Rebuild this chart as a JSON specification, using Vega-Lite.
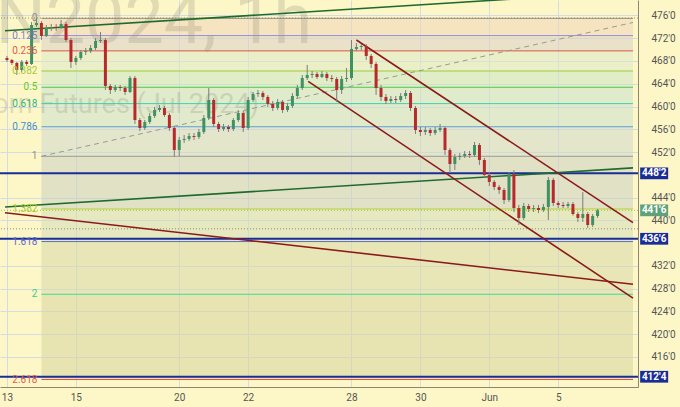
{
 "$schema": "https://vega.github.io/schema/vega-lite/v6.json",
 "width": 638, "height": 387,
 "autosize": {"type": "none"},
 "padding": {"left": 0, "top": 0, "right": 42, "bottom": 20},
 "background": "#fdf7c8",
 "config": {"view": {"stroke": null}, "font": "Roboto"},
 "datasets": {
  "candles": [
   {"i":0,"o":468.52,"h":468.88,"l":467.83,"c":468.18},{"i":1,"o":468.18,"h":468.36,"l":467.30,"c":467.65},{"i":2,"o":467.65,"h":467.83,"l":465.54,"c":466.42},{"i":3,"o":466.42,"h":468.18,"l":466.07,"c":467.83},{"i":4,"o":467.83,"h":468.18,"l":467.13,"c":467.48},{"i":5,"o":467.48,"h":474.86,"l":467.30,"c":474.33},{"i":6,"o":474.33,"h":475.55,"l":473.98,"c":474.68},{"i":7,"o":474.68,"h":475.03,"l":471.69,"c":472.40},{"i":8,"o":472.40,"h":474.33,"l":472.22,"c":473.80},{"i":9,"o":473.80,"h":474.51,"l":473.27,"c":473.98},
   {"i":10,"o":473.98,"h":474.51,"l":473.27,"c":473.80},{"i":11,"o":473.80,"h":475.21,"l":473.63,"c":474.51},{"i":12,"o":474.51,"h":474.86,"l":471.34,"c":471.69},{"i":13,"o":471.69,"h":472.04,"l":466.77,"c":467.83},{"i":14,"o":467.83,"h":468.88,"l":467.30,"c":468.52},{"i":15,"o":468.52,"h":469.93,"l":468.18,"c":469.58},{"i":16,"o":469.58,"h":470.28,"l":469.05,"c":469.75},{"i":17,"o":469.75,"h":470.81,"l":469.40,"c":470.28},{"i":18,"o":470.28,"h":472.04,"l":469.93,"c":471.51},{"i":19,"o":471.51,"h":473.10,"l":471.16,"c":471.69},
   {"i":20,"o":471.69,"h":472.04,"l":462.90,"c":463.61},{"i":21,"o":463.61,"h":463.96,"l":462.20,"c":462.90},{"i":22,"o":462.90,"h":463.78,"l":462.55,"c":463.43},{"i":23,"o":463.43,"h":463.78,"l":462.72,"c":463.25},{"i":24,"o":463.25,"h":463.61,"l":462.02,"c":462.55},{"i":25,"o":462.55,"h":465.36,"l":462.37,"c":465.01},{"i":26,"o":465.01,"h":465.36,"l":456.93,"c":457.63},{"i":27,"o":457.63,"h":457.98,"l":455.69,"c":456.22},{"i":28,"o":456.22,"h":457.63,"l":455.87,"c":457.28},{"i":29,"o":457.28,"h":458.86,"l":456.93,"c":458.34},
   {"i":30,"o":458.34,"h":459.92,"l":457.98,"c":459.39},{"i":31,"o":459.39,"h":460.27,"l":459.04,"c":459.74},{"i":32,"o":459.74,"h":460.10,"l":458.16,"c":458.51},{"i":33,"o":458.51,"h":458.86,"l":455.69,"c":456.22},{"i":34,"o":456.22,"h":456.57,"l":451.13,"c":452.36},{"i":35,"o":452.36,"h":454.65,"l":451.30,"c":454.12},{"i":36,"o":454.12,"h":454.99,"l":453.59,"c":454.30},{"i":37,"o":454.30,"h":455.34,"l":453.94,"c":454.82},{"i":38,"o":454.82,"h":455.34,"l":454.12,"c":454.65},{"i":39,"o":454.65,"h":456.05,"l":454.30,"c":455.52},
   {"i":40,"o":455.52,"h":458.51,"l":455.17,"c":457.98},{"i":41,"o":457.98,"h":463.25,"l":457.63,"c":461.15},{"i":42,"o":461.15,"h":461.50,"l":456.40,"c":456.93},{"i":43,"o":456.93,"h":457.28,"l":455.52,"c":456.05},{"i":44,"o":456.05,"h":456.93,"l":455.69,"c":456.40},{"i":45,"o":456.40,"h":456.75,"l":455.52,"c":456.05},{"i":46,"o":456.05,"h":457.98,"l":455.69,"c":457.63},{"i":47,"o":457.63,"h":459.39,"l":457.28,"c":458.86},{"i":48,"o":458.86,"h":459.21,"l":455.52,"c":456.22},{"i":49,"o":456.22,"h":461.68,"l":455.87,"c":461.15},
   {"i":50,"o":461.15,"h":462.55,"l":460.80,"c":462.20},{"i":51,"o":462.20,"h":462.90,"l":461.68,"c":462.37},{"i":52,"o":462.37,"h":462.72,"l":461.15,"c":461.68},{"i":53,"o":461.68,"h":462.02,"l":459.92,"c":460.45},{"i":54,"o":460.45,"h":460.97,"l":459.21,"c":459.74},{"i":55,"o":459.74,"h":461.32,"l":459.39,"c":460.80},{"i":56,"o":460.80,"h":461.15,"l":458.86,"c":459.39},{"i":57,"o":459.39,"h":460.62,"l":459.04,"c":460.10},{"i":58,"o":460.10,"h":462.37,"l":459.74,"c":461.85},{"i":59,"o":461.85,"h":463.78,"l":461.50,"c":463.25},
   {"i":60,"o":463.25,"h":465.54,"l":462.90,"c":465.01},{"i":61,"o":465.01,"h":467.30,"l":464.66,"c":465.54},{"i":62,"o":465.54,"h":466.24,"l":465.01,"c":465.72},{"i":63,"o":465.72,"h":466.07,"l":464.84,"c":465.19},{"i":64,"o":465.19,"h":466.24,"l":465.01,"c":465.72},{"i":65,"o":465.72,"h":466.07,"l":464.48,"c":465.01},{"i":66,"o":465.01,"h":465.54,"l":464.31,"c":464.84},{"i":67,"o":464.84,"h":465.19,"l":460.80,"c":462.90},{"i":68,"o":462.90,"h":465.36,"l":462.20,"c":464.84},{"i":69,"o":464.84,"h":466.77,"l":464.31,"c":465.01},
   {"i":70,"o":465.01,"h":471.69,"l":464.66,"c":470.11},{"i":71,"o":470.11,"h":471.16,"l":469.75,"c":470.46},{"i":72,"o":470.46,"h":470.98,"l":469.93,"c":470.63},{"i":73,"o":470.63,"h":470.98,"l":468.18,"c":468.88},{"i":74,"o":468.88,"h":469.23,"l":466.77,"c":467.48},{"i":75,"o":467.48,"h":467.83,"l":462.02,"c":463.25},{"i":76,"o":463.25,"h":463.78,"l":460.97,"c":461.68},{"i":77,"o":461.68,"h":462.20,"l":460.45,"c":460.97},{"i":78,"o":460.97,"h":461.85,"l":460.62,"c":461.32},{"i":79,"o":461.32,"h":461.85,"l":460.62,"c":461.15},
   {"i":80,"o":461.15,"h":462.37,"l":460.80,"c":461.85},{"i":81,"o":461.85,"h":462.90,"l":461.32,"c":462.37},{"i":82,"o":462.37,"h":462.72,"l":459.21,"c":459.74},{"i":83,"o":459.74,"h":460.10,"l":455.17,"c":455.87},{"i":84,"o":455.87,"h":456.40,"l":454.82,"c":455.52},{"i":85,"o":455.52,"h":456.40,"l":454.99,"c":455.87},{"i":86,"o":455.87,"h":456.22,"l":454.82,"c":455.34},{"i":87,"o":455.34,"h":456.40,"l":454.99,"c":455.87},{"i":88,"o":455.87,"h":456.93,"l":455.52,"c":456.22},{"i":89,"o":456.22,"h":456.57,"l":451.48,"c":452.36},
   {"i":90,"o":452.36,"h":452.71,"l":448.31,"c":449.89},{"i":91,"o":449.89,"h":451.66,"l":448.84,"c":451.13},{"i":92,"o":451.13,"h":451.83,"l":450.60,"c":451.30},{"i":93,"o":451.30,"h":452.18,"l":450.95,"c":451.66},{"i":94,"o":451.66,"h":452.18,"l":450.95,"c":451.48},{"i":95,"o":451.48,"h":453.77,"l":451.13,"c":453.24},{"i":96,"o":453.24,"h":453.59,"l":449.73,"c":450.60},{"i":97,"o":450.60,"h":450.95,"l":447.44,"c":447.97},{"i":98,"o":447.97,"h":448.49,"l":446.03,"c":446.74},{"i":99,"o":446.74,"h":447.09,"l":445.33,"c":445.86},
   {"i":100,"o":445.86,"h":446.21,"l":444.63,"c":445.33},{"i":101,"o":445.33,"h":445.68,"l":442.87,"c":443.57},{"i":102,"o":443.57,"h":448.49,"l":443.22,"c":448.14},{"i":103,"o":448.14,"h":448.84,"l":441.46,"c":442.16},{"i":104,"o":442.16,"h":442.69,"l":439.18,"c":440.41},{"i":105,"o":440.41,"h":443.04,"l":440.06,"c":442.51},{"i":106,"o":442.51,"h":442.87,"l":441.46,"c":441.99},{"i":107,"o":441.99,"h":442.69,"l":441.46,"c":442.16},{"i":108,"o":442.16,"h":442.69,"l":441.28,"c":441.81},{"i":109,"o":441.81,"h":442.87,"l":441.46,"c":442.34},
   {"i":110,"o":442.34,"h":447.62,"l":440.06,"c":447.09},{"i":111,"o":447.09,"h":447.44,"l":442.51,"c":443.04},{"i":112,"o":443.04,"h":443.39,"l":442.16,"c":442.69},{"i":113,"o":442.69,"h":443.22,"l":442.16,"c":442.51},{"i":114,"o":442.51,"h":443.22,"l":442.16,"c":442.87},{"i":115,"o":442.87,"h":443.22,"l":440.83,"c":441.11},{"i":116,"o":441.11,"h":441.46,"l":439.71,"c":440.41},{"i":117,"o":440.41,"h":444.96,"l":439.71,"c":441.11},{"i":118,"o":441.11,"h":441.46,"l":438.65,"c":439.18},{"i":119,"o":439.18,"h":441.11,"l":438.83,"c":440.76},
   {"i":120,"o":440.76,"h":441.99,"l":440.41,"c":441.75}
  ],
  "fib": [
   {"r":"0","p":475.5},{"r":"0.125","p":472.47},{"r":"0.236","p":469.78},{"r":"0.382","p":466.24},{"r":"0.5","p":463.38},{"r":"0.618","p":460.51},{"r":"0.786","p":456.44},{"r":"1","p":451.25},{"r":"1.382","p":441.99},{"r":"1.618","p":436.26},{"r":"2","p":427.0},{"r":"2.618","p":412.01}
  ],
  "bands": [
   {"b":"b1","top":475.5,"bot":472.47},{"b":"b2","top":472.47,"bot":469.78},{"b":"b3","top":469.78,"bot":466.24},{"b":"b4","top":466.24,"bot":463.38},{"b":"b5","top":463.38,"bot":460.51},{"b":"b6","top":460.51,"bot":456.44},{"b":"b7","top":456.44,"bot":451.25},{"b":"b8","top":451.25,"bot":441.99},{"b":"b9","top":441.99,"bot":436.26},{"b":"b10","top":436.26,"bot":427.0},{"b":"b11","top":427.0,"bot":412.01}
  ],
  "lines": [
   {"seg":"g1","i":-0.4,"p":473.32},{"seg":"g1","i":127.2,"p":480.2},
   {"seg":"g2","i":-0.4,"p":442.34},{"seg":"g2","i":127.2,"p":449.21},
   {"seg":"r1","i":-0.4,"p":441.34},{"seg":"r1","i":127.2,"p":428.77},
   {"seg":"r2","i":61.2,"p":464.41},{"seg":"r2","i":127.2,"p":426.31},
   {"seg":"r3","i":71,"p":471.69},{"seg":"r3","i":127.2,"p":439.58}
  ],
  "fibtrend": [{"i":7,"p":451.25},{"i":127.2,"p":474.77}],
  "hilo": [{"p":475.55},{"p":438.5}],
  "tags": [
   {"p":448.25,"lab":"448'2","k":"line"},{"p":441.75,"lab":"441'6","k":"last"},{"p":436.75,"lab":"436'6","k":"line"},{"p":412.5,"lab":"412'4","k":"line"}
  ]
 },
 "layer": [
  {
   "data": {"name": "candles"},
   "mark": {"type": "rule", "strokeWidth": 1, "color": "#7d7d7d", "opacity": 0},
   "encoding": {
    "x": {"field": "i", "type": "quantitative", "title": null,
     "scale": {"domain": [-0.4, 127.2], "nice": false, "zero": false},
     "axis": {"title": null, "orient": "bottom", "values": [0,14,35,49,70,84,98,112], "tickCount": 30,
      "labelExpr": "datum.value==0?'13':datum.value==14?'15':datum.value==35?'20':datum.value==49?'22':datum.value==70?'28':datum.value==84?'30':datum.value==98?'Jun':'5'",
      "ticks": false, "labelPadding": 5, "labelFontSize": 10, "labelColor": "#555555", "labelFlush": false, "labelOverlap": false,
      "domainColor": "#8c8672", "grid": true, "gridColor": "#d5dbe3", "labelFont": "Roboto"}},
    "y": {"field": "l", "type": "quantitative", "title": null,
     "scale": {"domain": [410.7, 478.72], "nice": false, "zero": false},
     "axis": {"title": null, "orient": "right", "values": [416,420,424,428,432,440,444,452,456,460,464,468,472,476], "tickCount": 30,
      "labelExpr": "datum.value + \"'0\"", "ticks": false, "labelPadding": 13, "labelFontSize": 10, "labelOverlap": false,
      "labelColor": "#555555", "domainColor": "#8c8672", "grid": true, "gridColor": "#d5dbe3", "labelFont": "Roboto"}}
   }
  },
  {
   "data": {"name": "bands"},
   "mark": {"type": "rect", "opacity": 0.55},
   "encoding": {
    "x": {"datum": 7, "type": "quantitative", "title": null},
    "x2": {"datum": 127.2},
    "y": {"field": "top", "type": "quantitative", "title": null},
    "y2": {"field": "bot"},
    "color": {"field": "b", "type": "nominal", "legend": null,
     "scale": {"domain": ["b1","b2","b3","b4","b5","b6","b7","b8","b9","b10","b11"],
      "range": ["#efd6b8","#dbd1c8","#dbe9c8","#cbe5c4","#c7e1cc","#cbe1d0","#cfd9d0","#cbcfc4","#d3ddb8","#d7d9a8","#d5d5a0"]}}
   }
  },
  {
   "data": {"values": [{}]},
   "mark": {"type": "text", "text": "ZCN2024, 1h", "align": "right", "baseline": "alphabetic", "fontSize": 70, "font": "Roboto", "color": "#8f8c78", "opacity": 0.25},
   "encoding": {"x": {"datum": 62, "type": "quantitative", "title": null}, "y": {"datum": 471.2, "type": "quantitative", "title": null}}
  },
  {
   "data": {"values": [{}]},
   "mark": {"type": "text", "text": "Corn Futures (Jul 2024)", "align": "right", "baseline": "alphabetic", "fontSize": 27, "font": "Roboto", "color": "#8f8c78", "opacity": 0.25},
   "encoding": {"x": {"datum": 51.2, "type": "quantitative", "title": null}, "y": {"datum": 458.86, "type": "quantitative", "title": null}}
  },
  {
   "data": {"name": "fib"},
   "mark": {"type": "rule", "strokeWidth": 1},
   "encoding": {
    "x": {"datum": 7, "type": "quantitative", "title": null}, "x2": {"datum": 127.2},
    "y": {"field": "p", "type": "quantitative", "title": null},
    "color": {"field": "r", "type": "nominal", "legend": null,
     "scale": {"domain": ["0","0.125","0.236","0.382","0.5","0.618","0.786","1","1.382","1.618","2","2.618"],
      "range": ["#8c8c8c","#9b8fd6","#d9534f","#9ccc3d","#4cc94c","#3fd1a8","#5c9fd6","#9a9a90","#b8d040","#5a6ad0","#40d6a0","#d9534f"]}}
   }
  },
  {
   "data": {"name": "fibtrend"},
   "mark": {"type": "line", "strokeDash": [5, 4], "strokeWidth": 1, "color": "#9a9a90"},
   "encoding": {"x": {"field": "i", "type": "quantitative", "title": null}, "y": {"field": "p", "type": "quantitative", "title": null}}
  },
  {
   "data": {"name": "hilo"},
   "mark": {"type": "rule", "strokeDash": [1, 2], "strokeWidth": 1, "color": "#8a8a8a"},
   "encoding": {"y": {"field": "p", "type": "quantitative", "title": null}}
  },
  {
   "data": {"name": "tags"},
   "transform": [{"filter": "datum.k == 'last'"}],
   "mark": {"type": "rule", "strokeDash": [1, 2], "strokeWidth": 1, "color": "#9ccc3d"},
   "encoding": {"y": {"field": "p", "type": "quantitative", "title": null}}
  },
  {
   "data": {"name": "tags"},
   "transform": [{"filter": "datum.k == 'line'"}],
   "mark": {"type": "rule", "strokeWidth": 2, "color": "#1a2d96"},
   "encoding": {"y": {"field": "p", "type": "quantitative", "title": null}}
  },
  {
   "data": {"name": "lines"},
   "mark": {"type": "line", "strokeWidth": 1.6, "clip": true},
   "encoding": {
    "x": {"field": "i", "type": "quantitative", "title": null},
    "y": {"field": "p", "type": "quantitative", "title": null},
    "detail": {"field": "seg"},
    "color": {"field": "seg", "type": "nominal", "legend": null,
     "scale": {"domain": ["g1","g2","r1","r2","r3"], "range": ["#1e6b2e","#1e6b2e","#8b1a1a","#8b1a1a","#8b1a1a"]}}
   }
  },
  {
   "data": {"name": "candles"},
   "mark": {"type": "rule", "strokeWidth": 1, "color": "#7d7d7d"},
   "encoding": {"x": {"field": "i", "type": "quantitative", "title": null}, "y": {"field": "l", "type": "quantitative", "title": null}, "y2": {"field": "h"}}
  },
  {
   "data": {"name": "candles"},
   "mark": {"type": "bar", "width": 3},
   "encoding": {
    "x": {"field": "i", "type": "quantitative", "title": null},
    "y": {"field": "o", "type": "quantitative", "title": null}, "y2": {"field": "c"},
    "color": {"condition": {"test": "datum.c >= datum.o", "value": "#3e9163"}, "value": "#b8292b"}
   }
  },
  {
   "data": {"name": "fib"},
   "mark": {"type": "text", "align": "right", "baseline": "middle", "fontSize": 10, "font": "Roboto"},
   "encoding": {
    "x": {"datum": 6.2, "type": "quantitative", "title": null},
    "y": {"field": "p", "type": "quantitative", "title": null},
    "text": {"field": "r"},
    "color": {"field": "r", "type": "nominal", "legend": null,
     "scale": {"domain": ["0","0.125","0.236","0.382","0.5","0.618","0.786","1","1.382","1.618","2","2.618"],
      "range": ["#8c8c8c","#8878d0","#e05a50","#a5c93a","#5cc92a","#28b98a","#3f8fd0","#8c8c8c","#a5c93a","#5a6ad0","#2fcf8a","#e05a50"]}}
   }
  },
  {
   "data": {"name": "tags"},
   "mark": {"type": "point", "shape": "M-1,-0.42L1,-0.42L1,0.42L-1,0.42Z", "filled": true, "size": 784, "opacity": 1},
   "encoding": {
    "x": {"datum": 131.5, "type": "quantitative", "title": null},
    "y": {"field": "p", "type": "quantitative", "title": null},
    "color": {"field": "k", "type": "nominal", "legend": null, "scale": {"domain": ["line","last"], "range": ["#1a2d96","#5fa27a"]}}
   }
  },
  {
   "data": {"name": "tags"},
   "mark": {"type": "text", "color": "white", "fontSize": 10, "fontWeight": "bold", "align": "center", "baseline": "middle", "font": "Roboto"},
   "encoding": {
    "x": {"datum": 131.5, "type": "quantitative", "title": null},
    "y": {"field": "p", "type": "quantitative", "title": null},
    "text": {"field": "lab"}
   }
  }
 ],
 "resolve": {"scale": {"color": "independent"}}
}
